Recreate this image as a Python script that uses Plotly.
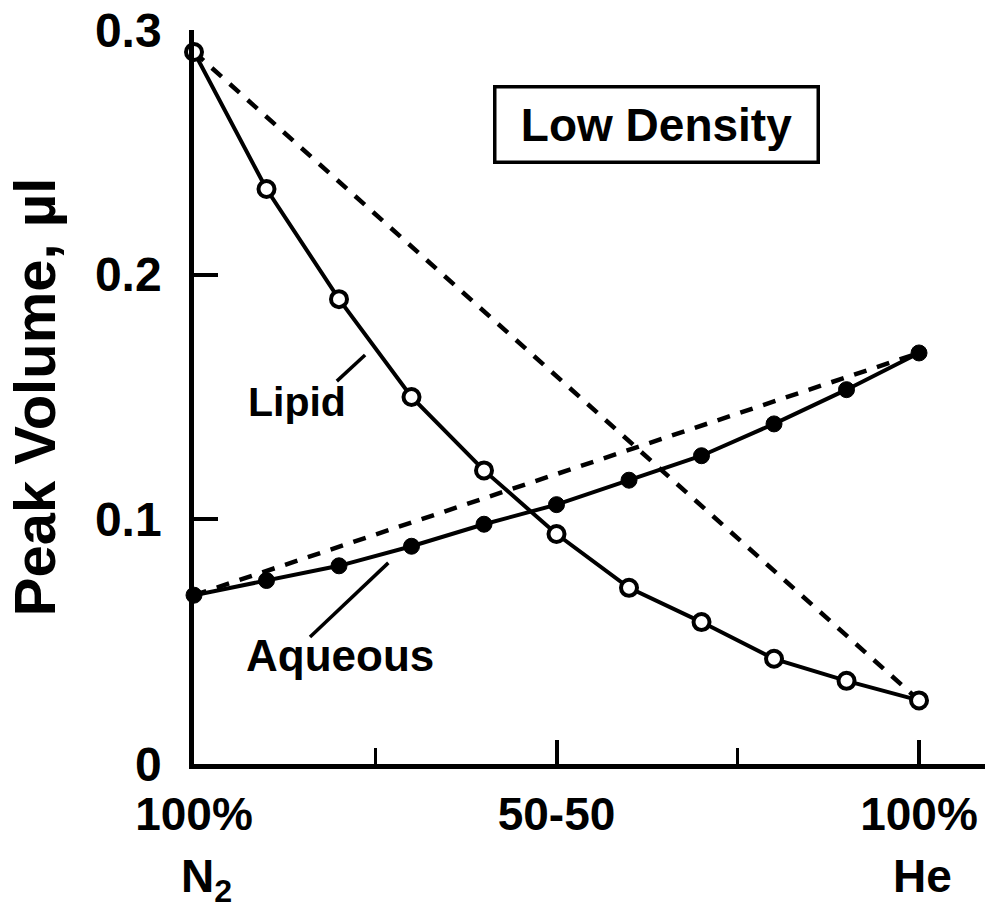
import plotly.graph_objects as go

# x: % helium in the N2/He mixture (0 = 100% N2, 100 = 100% He)
x_pct_he = [0, 10, 20, 30, 40, 50, 60, 70, 80, 90, 100]
lipid_measured = [0.291, 0.235, 0.190, 0.150, 0.120, 0.094, 0.072, 0.058, 0.043, 0.034, 0.026]
aqueous_measured = [0.069, 0.075, 0.081, 0.089, 0.098, 0.106, 0.116, 0.126, 0.139, 0.153, 0.168]
# dashed reference lines (linear between end members)
dash_x = [0, 100]
lipid_linear = [0.291, 0.026]
aqueous_linear = [0.069, 0.168]

tick_vals = [0, 50, 100]
tick_text = ["100%", "50-50", "100%"]
gas_labels = ["N<sub>2</sub>", "He"]
gas_label_x = [0, 100]
y_ticks = [0, 0.1, 0.2, 0.3]
y_ticktext = ["0", "0.1", "0.2", "0.3"]

FONT = "Liberation Sans, Arial, Helvetica, sans-serif"


def f(size):
    return dict(family=FONT, size=size, color="black", weight="bold")


fig = go.Figure()

fig.add_trace(go.Scatter(x=dash_x, y=lipid_linear, mode="lines",
                         line=dict(color="black", width=4.5, dash="13px,11px"),
                         showlegend=False, hoverinfo="skip"))
fig.add_trace(go.Scatter(x=dash_x, y=aqueous_linear, mode="lines",
                         line=dict(color="black", width=4.5, dash="13px,11px"),
                         showlegend=False, hoverinfo="skip"))
fig.add_trace(go.Scatter(x=x_pct_he, y=aqueous_measured, mode="lines+markers",
                         name="Aqueous",
                         line=dict(color="black", width=4),
                         marker=dict(symbol="circle", size=16, color="black",
                                     line=dict(color="black", width=1)),
                         showlegend=False, cliponaxis=False))
fig.add_trace(go.Scatter(x=x_pct_he, y=lipid_measured, mode="lines+markers",
                         name="Lipid",
                         line=dict(color="black", width=4),
                         marker=dict(symbol="circle", size=16, color="white",
                                     line=dict(color="black", width=4)),
                         showlegend=False, cliponaxis=False))

# leader lines for labels
fig.add_shape(type="line", xref="x", yref="y", x0=19.7, y0=0.1565, x1=23.6, y1=0.1672,
              line=dict(color="black", width=3.5))
fig.add_shape(type="line", xref="x", yref="y", x0=16.0, y0=0.0519, x1=26.8, y1=0.0822,
              line=dict(color="black", width=3.5))

fig.add_annotation(x=14.2, y=0.148, xref="x", yref="y", text="Lipid", showarrow=False,
                   font=f(41))
fig.add_annotation(x=20.1, y=0.0445, xref="x", yref="y", text="Aqueous", showarrow=False,
                   font=f(44))
fig.add_annotation(x=63.8, y=0.2615, xref="x", yref="y", text="Low Density", showarrow=False,
                   font=f(46),
                   bordercolor="black", borderwidth=3.5, width=318, height=70,
                   bgcolor="white")

for gx, gl in zip(gas_label_x, gas_labels):
    fig.add_annotation(x=gx, y=0, xref="x", yref="paper", text=gl, showarrow=False,
                       yanchor="top", yshift=-84, xshift=12 if gx == 0 else 3,
                       font=f(46))

fig.update_layout(
    width=990, height=914,
    margin=dict(l=194, r=5, t=30, b=150),
    paper_bgcolor="white", plot_bgcolor="white",
    font=dict(family=FONT, color="black"),
    xaxis=dict(range=[0, 109.1], showgrid=False, zeroline=False,
               showline=True, linecolor="black", linewidth=4.5,
               tickmode="array", tickvals=tick_vals, ticktext=tick_text,
               ticks="inside", ticklen=24, tickwidth=3.5, tickcolor="black",
               tickfont=f(46),
               ticklabelstandoff=6,
               minor=dict(tickvals=[25, 75], ticks="inside", ticklen=16,
                          tickwidth=3, tickcolor="black")),
    yaxis=dict(range=[0, 0.3], showgrid=False, zeroline=False,
               showline=True, linecolor="black", linewidth=4.5,
               tickmode="array", tickvals=y_ticks, ticktext=y_ticktext,
               ticks="inside", ticklen=24, tickwidth=3.5, tickcolor="black",
               tickfont=f(48),
               ticklabelstandoff=18,
               title=dict(text="Peak Volume, µl", standoff=22,
                          font=f(58))),
)

fig.write_html("out.html")
